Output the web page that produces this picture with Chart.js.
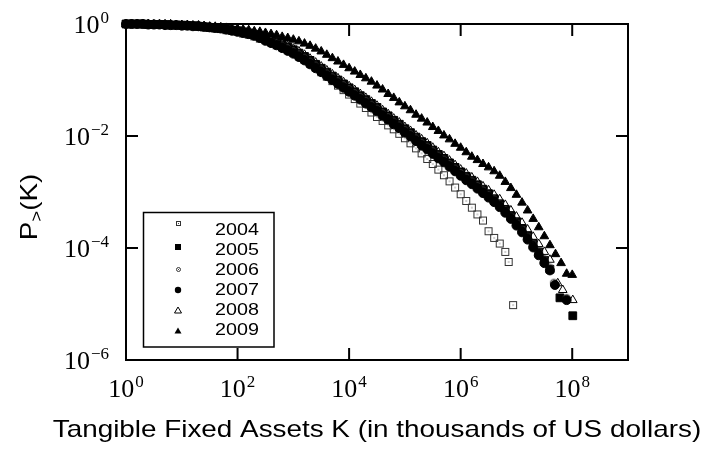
<!DOCTYPE html>
<html>
<head>
<meta charset="utf-8">
<title>Tangible Fixed Assets</title>
<script src="https://cdn.jsdelivr.net/npm/chart.js"></script>
<style>
  html, body { margin: 0; padding: 0; background: #fff; }
  canvas { display: block; }
</style>
</head>
<body>
<canvas id="grafico" width="709" height="450"></canvas>
<script>
// malla comun de log10(K), de 10^0 a 10^8
const exponentesK = [
    0.0, 0.1, 0.2, 0.3, 0.4, 0.5, 0.6, 0.7, 0.8, 0.9,
    1.0, 1.1, 1.2, 1.3, 1.4, 1.5, 1.6, 1.7, 1.8, 1.9,
    2.0, 2.1, 2.2, 2.3, 2.4, 2.5, 2.6, 2.7, 2.8, 2.9,
    3.0, 3.1, 3.2, 3.3, 3.4, 3.5, 3.6, 3.7, 3.8, 3.9,
    4.0, 4.1, 4.2, 4.3, 4.4, 4.5, 4.6, 4.7, 4.8, 4.9,
    5.0, 5.1, 5.2, 5.3, 5.4, 5.5, 5.6, 5.7, 5.8, 5.9,
    6.0, 6.1, 6.2, 6.3, 6.4, 6.5, 6.6, 6.7, 6.8, 6.9,
    7.0, 7.1, 7.2, 7.3, 7.4, 7.5, 7.6, 7.7, 7.8, 7.9,
    8.0
];

// log10 de P>(K) por año, sobre la malla de arriba
const logP2004 = [
    0.00, 0.00, 0.00, 0.00, -0.01, -0.01, -0.01, -0.01, -0.02, -0.02,
    -0.03, -0.03, -0.04, -0.05, -0.06, -0.07, -0.08, -0.09, -0.11, -0.12,
    -0.14, -0.17, -0.19, -0.22, -0.26, -0.29, -0.33, -0.38, -0.42, -0.47,
    -0.52, -0.58, -0.64, -0.71, -0.78, -0.86, -0.94, -1.02, -1.10, -1.18,
    -1.26, -1.34, -1.42, -1.50, -1.58, -1.66, -1.73, -1.81, -1.88, -1.96,
    -2.04, -2.13, -2.22, -2.31, -2.41, -2.50, -2.60, -2.70, -2.81, -2.92,
    -3.04, -3.16, -3.28, -3.40, -3.51, -3.70, -3.82, -3.92, -4.07
];
const logP2005 = [
    0.00, 0.00, 0.00, 0.00, -0.01, -0.01, -0.01, -0.01, -0.02, -0.02,
    -0.02, -0.03, -0.03, -0.04, -0.05, -0.06, -0.07, -0.08, -0.09, -0.11,
    -0.12, -0.14, -0.16, -0.19, -0.22, -0.26, -0.29, -0.33, -0.37, -0.41,
    -0.46, -0.52, -0.58, -0.65, -0.72, -0.79, -0.86, -0.93, -1.00, -1.07,
    -1.14, -1.21, -1.28, -1.35, -1.42, -1.49, -1.57, -1.64, -1.72, -1.79,
    -1.87, -1.94, -2.02, -2.10, -2.17, -2.25, -2.33, -2.40, -2.48, -2.56,
    -2.64, -2.72, -2.79, -2.87, -2.95, -3.03, -3.12, -3.21, -3.31, -3.42,
    -3.53, -3.65, -3.78, -3.92, -4.07, -4.22, -4.38
];
const logP2006 = [
    0.00, 0.00, 0.00, 0.00, -0.01, -0.01, -0.01, -0.01, -0.02, -0.02,
    -0.02, -0.03, -0.03, -0.04, -0.05, -0.06, -0.07, -0.08, -0.09, -0.11,
    -0.13, -0.15, -0.17, -0.20, -0.23, -0.27, -0.30, -0.34, -0.38, -0.43,
    -0.48, -0.54, -0.60, -0.67, -0.74, -0.81, -0.88, -0.95, -1.02, -1.09,
    -1.16, -1.23, -1.30, -1.37, -1.44, -1.51, -1.59, -1.66, -1.74, -1.81,
    -1.89, -1.96, -2.04, -2.12, -2.19, -2.27, -2.35, -2.42, -2.50, -2.58,
    -2.66, -2.74, -2.81, -2.89, -2.97, -3.05, -3.13, -3.22, -3.32, -3.43,
    -3.54, -3.66, -3.79, -3.92, -4.06, -4.20, -4.35
];
const logP2007 = [
    0.00, 0.00, 0.00, 0.00, -0.01, -0.01, -0.01, -0.02, -0.02, -0.02,
    -0.03, -0.03, -0.04, -0.04, -0.05, -0.06, -0.07, -0.08, -0.10, -0.12,
    -0.14, -0.16, -0.18, -0.21, -0.25, -0.30, -0.34, -0.38, -0.43, -0.48,
    -0.53, -0.59, -0.65, -0.72, -0.79, -0.86, -0.93, -1.00, -1.07, -1.14,
    -1.21, -1.28, -1.35, -1.42, -1.49, -1.56, -1.64, -1.71, -1.79, -1.86,
    -1.94, -2.01, -2.09, -2.17, -2.24, -2.32, -2.40, -2.47, -2.55, -2.63,
    -2.71, -2.79, -2.86, -2.94, -3.02, -3.10, -3.18, -3.27, -3.37, -3.48,
    -3.60, -3.72, -3.85, -3.99, -4.13, -4.27, -4.40
];
const logP2008 = [
    0.00, 0.00, 0.00, 0.00, 0.00, -0.01, -0.01, -0.01, -0.01, -0.02,
    -0.02, -0.02, -0.03, -0.03, -0.04, -0.05, -0.06, -0.07, -0.08, -0.10,
    -0.12, -0.14, -0.16, -0.19, -0.22, -0.25, -0.28, -0.31, -0.35, -0.39,
    -0.44, -0.49, -0.55, -0.62, -0.69, -0.76, -0.83, -0.90, -0.97, -1.04,
    -1.11, -1.18, -1.25, -1.32, -1.39, -1.46, -1.54, -1.61, -1.69, -1.76,
    -1.84, -1.91, -1.99, -2.06, -2.13, -2.21, -2.29, -2.36, -2.44, -2.52,
    -2.60, -2.67, -2.74, -2.82, -2.90, -2.97, -3.05, -3.13, -3.23, -3.33,
    -3.44, -3.55, -3.67, -3.80, -3.93, -4.07, -4.21
];
const logP2009 = [
    0.00, 0.00, 0.00, 0.00, 0.00, -0.01, -0.01, -0.01, -0.01, -0.02,
    -0.02, -0.02, -0.03, -0.03, -0.04, -0.05, -0.05, -0.06, -0.07, -0.08,
    -0.09, -0.10, -0.11, -0.13, -0.14, -0.16, -0.18, -0.20, -0.23, -0.25,
    -0.28, -0.31, -0.35, -0.39, -0.44, -0.49, -0.55, -0.61, -0.67, -0.73,
    -0.79, -0.85, -0.91, -0.97, -1.03, -1.10, -1.17, -1.25, -1.32, -1.40,
    -1.47, -1.54, -1.62, -1.69, -1.76, -1.84, -1.91, -1.99, -2.06, -2.14,
    -2.21, -2.29, -2.37, -2.43, -2.50, -2.56, -2.63, -2.71, -2.82, -2.93,
    -3.05, -3.19, -3.33, -3.48, -3.63, -3.79, -3.95, -4.11, -4.27, -4.46,
    -4.48
];

// puntos sueltos de la cola: [log10 K, log10 P]
const cola2004 = [[6.86, -4.25], [6.94, -5.02]];
const cola2005 = [[7.78, -4.89], [8.01, -5.21]];
const cola2006 = [[7.67, -4.62], [7.90, -4.89]];
const cola2007 = [[7.69, -4.66], [7.90, -4.93]];
const cola2008 = [[7.74, -4.63], [7.83, -4.75], [8.01, -4.93]];
const cola2009 = [];

const anios = ['2004', '2005', '2006', '2007', '2008', '2009'];

// marcas de los ejes (exponentes de 10)
const exponentesTicksX = [0, 2, 4, 6, 8];
const exponentesTicksY = [0, -2, -4, -6];

const tituloX = 'Tangible Fixed Assets K (in thousands of US dollars)';

const SERIF = '"Liberation Serif", "Times New Roman", serif';
const SANS = '"Liberation Sans", Arial, sans-serif';
const ANCHO_SANS = 1.16; // la letra sans del original es mas ancha que Arial

function armarPuntos(logP, cola) {
    const puntos = logP.map((v, i) => ({ x: Math.pow(10, exponentesK[i]), y: Math.pow(10, v) }));
    cola.forEach(p => puntos.push({ x: Math.pow(10, p[0]), y: Math.pow(10, p[1]) }));
    return puntos;
}

// cuadrado / circulo abierto con un punto en el centro (estilo gnuplot)
function marcadorConPunto(forma, tam) {
    const c = document.createElement('canvas');
    c.width = tam;
    c.height = tam;
    const g = c.getContext('2d');
    const m = tam / 2;
    g.strokeStyle = '#333';
    g.lineWidth = 1;
    if (forma === 'cuadrado') {
        g.strokeRect(1.5, 1.5, tam - 3, tam - 3);
    } else {
        g.beginPath();
        g.arc(m, m, m - 1.5, 0, Math.PI * 2);
        g.stroke();
    }
    g.fillStyle = '#444';
    g.fillRect(Math.floor(m) - (tam % 2 ? 0 : 0.5), Math.floor(m) - (tam % 2 ? 0 : 0.5), 1, 1);
    return c;
}

const cuadradoPunto = marcadorConPunto('cuadrado', 10);
const circuloPunto = marcadorConPunto('circulo', 10);
const cuadradoPuntoChico = marcadorConPunto('cuadrado', 7);
const circuloPuntoChico = marcadorConPunto('circulo', 7);

function dibujarPotencia(ctx, exp, x, yBase, alineacion) {
    const sup = (exp < 0 ? '\u2212' : '') + Math.abs(exp);
    ctx.font = '26px ' + SERIF;
    const wBase = ctx.measureText('10').width;
    ctx.font = '17px ' + SERIF;
    const wSup = ctx.measureText(sup).width;
    const total = wBase + 1 + wSup;
    const x0 = alineacion === 'centro' ? x - total / 2 : x - total;
    ctx.textAlign = 'left';
    ctx.textBaseline = 'alphabetic';
    ctx.font = '26px ' + SERIF;
    ctx.fillText('10', x0, yBase);
    ctx.font = '17px ' + SERIF;
    ctx.fillText(sup, x0 + wBase + 1, yBase - 10);
}

function textoAncho(ctx, texto, x, y) {
    ctx.save();
    ctx.translate(x, y);
    ctx.scale(ANCHO_SANS, 1);
    ctx.fillText(texto, 0, 0);
    ctx.restore();
}

function dibujarMarcaLeyenda(ctx, i, x, y) {
    ctx.fillStyle = '#000';
    ctx.strokeStyle = '#000';
    ctx.lineWidth = 1;
    switch (i) {
        case 0:
            ctx.drawImage(cuadradoPuntoChico, Math.round(x - 3.5), Math.round(y - 3.5));
            break;
        case 1:
            ctx.fillRect(x - 3, y - 3, 6, 6);
            break;
        case 2:
            ctx.drawImage(circuloPuntoChico, Math.round(x - 3.5), Math.round(y - 3.5));
            break;
        case 3:
            ctx.beginPath();
            ctx.arc(x, y, 3.2, 0, Math.PI * 2);
            ctx.fill();
            break;
        case 4:
        case 5:
            ctx.beginPath();
            ctx.moveTo(x, y - 3.5);
            ctx.lineTo(x + 3.5, y + 2.5);
            ctx.lineTo(x - 3.5, y + 2.5);
            ctx.closePath();
            if (i === 5) ctx.fill(); else ctx.stroke();
            break;
    }
}

// marco, marcas hacia adentro, etiquetas, titulos y leyenda
const marcoGnuplot = {
    id: 'marcoGnuplot',
    beforeDatasetsDraw(chart) {
        const { ctx, chartArea: a, scales } = chart;
        ctx.save();
        ctx.strokeStyle = '#000';
        ctx.lineWidth = 2;
        ctx.strokeRect(a.left, a.top, a.right - a.left, a.bottom - a.top);
        ctx.beginPath();
        exponentesTicksX.forEach(e => {
            const x = scales.x.getPixelForValue(Math.pow(10, e));
            ctx.moveTo(x, a.bottom);
            ctx.lineTo(x, a.bottom - 12);
            ctx.moveTo(x, a.top);
            ctx.lineTo(x, a.top + 12);
        });
        exponentesTicksY.forEach(e => {
            const y = scales.y.getPixelForValue(Math.pow(10, e));
            ctx.moveTo(a.left, y);
            ctx.lineTo(a.left + 12, y);
            ctx.moveTo(a.right, y);
            ctx.lineTo(a.right - 12, y);
        });
        ctx.stroke();
        ctx.restore();
    },
    afterDatasetsDraw(chart) {
        const ctx = chart.ctx;
        const marcasY = [223, 247, 269, 290, 310.5, 331];
        ctx.save();
        ctx.strokeStyle = '#000';
        ctx.lineWidth = 1.5;
        ctx.strokeRect(143.5, 212.5, 130.5, 134.5);
        anios.forEach((anio, i) => {
            dibujarMarcaLeyenda(ctx, i, 178, marcasY[i]);
            ctx.fillStyle = '#000';
            ctx.font = '17px ' + SANS;
            ctx.textAlign = 'left';
            ctx.textBaseline = 'alphabetic';
            textoAncho(ctx, anio, 215, 229 + 20 * i + 6);
        });
        ctx.restore();
    },
    afterDraw(chart) {
        const { ctx, chartArea: a, scales } = chart;
        ctx.save();
        ctx.fillStyle = '#000';

        exponentesTicksX.forEach(e => {
            const x = scales.x.getPixelForValue(Math.pow(10, e));
            dibujarPotencia(ctx, e, x, 397, 'centro');
        });
        exponentesTicksY.forEach(e => {
            const y = scales.y.getPixelForValue(Math.pow(10, e));
            dibujarPotencia(ctx, e, a.left - 17, y + 9, 'derecha');
        });

        // titulo del eje x
        ctx.font = '24px ' + SANS;
        ctx.textAlign = 'center';
        ctx.textBaseline = 'alphabetic';
        textoAncho(ctx, tituloX, (a.left + a.right) / 2, 437);

        // titulo del eje y: P con subindice ">" y luego (K)
        ctx.translate(37, 207);
        ctx.rotate(-Math.PI / 2);
        ctx.scale(ANCHO_SANS, 1);
        ctx.textAlign = 'left';
        ctx.font = '24px ' + SANS;
        const wP = ctx.measureText('P').width;
        const wK = ctx.measureText('(K)').width;
        ctx.font = '16px ' + SANS;
        const wSub = ctx.measureText('>').width;
        const x0 = -(wP + wSub + wK) / 2;
        ctx.font = '24px ' + SANS;
        ctx.fillText('P', x0, 0);
        ctx.font = '16px ' + SANS;
        ctx.fillText('>', x0 + wP, 5);
        ctx.font = '24px ' + SANS;
        ctx.fillText('(K)', x0 + wP + wSub, 0);
        ctx.restore();
    }
};

let ctx = document.getElementById('grafico').getContext('2d');

let grafico = new Chart(ctx, {
    type: 'scatter',
    data: {
        datasets: [
            {
                label: '2004',
                data: armarPuntos(logP2004, cola2004),
                pointStyle: cuadradoPunto,
                pointRadius: 4,
                order: 6,
                clip: false
            },
            {
                label: '2005',
                data: armarPuntos(logP2005, cola2005),
                pointStyle: 'rect',
                pointRadius: 5.5,
                backgroundColor: '#000',
                borderColor: '#000',
                borderWidth: 1,
                order: 5,
                clip: false
            },
            {
                label: '2006',
                data: armarPuntos(logP2006, cola2006),
                pointStyle: circuloPunto,
                pointRadius: 4,
                order: 4,
                clip: false
            },
            {
                label: '2007',
                data: armarPuntos(logP2007, cola2007),
                pointStyle: 'circle',
                pointRadius: 4.5,
                backgroundColor: '#000',
                borderColor: '#000',
                borderWidth: 1,
                order: 3,
                clip: false
            },
            {
                label: '2008',
                data: armarPuntos(logP2008, cola2008),
                pointStyle: 'triangle',
                pointRadius: 5,
                backgroundColor: 'rgba(0,0,0,0)',
                borderColor: '#000',
                borderWidth: 1,
                order: 2,
                clip: false
            },
            {
                label: '2009',
                data: armarPuntos(logP2009, cola2009),
                pointStyle: 'triangle',
                pointRadius: 5,
                backgroundColor: '#000',
                borderColor: '#000',
                borderWidth: 1,
                order: 1,
                clip: false
            }
        ]
    },
    options: {
        responsive: false,
        animation: false,
        events: [],
        layout: {
            padding: { left: 126, top: 24, right: 81, bottom: 90 }
        },
        scales: {
            x: { type: 'logarithmic', min: 1, max: 1e9, display: false },
            y: { type: 'logarithmic', min: 1e-6, max: 1, display: false }
        },
        plugins: {
            legend: { display: false },
            tooltip: { enabled: false }
        }
    },
    plugins: [marcoGnuplot]
});
</script>
</body>
</html>
